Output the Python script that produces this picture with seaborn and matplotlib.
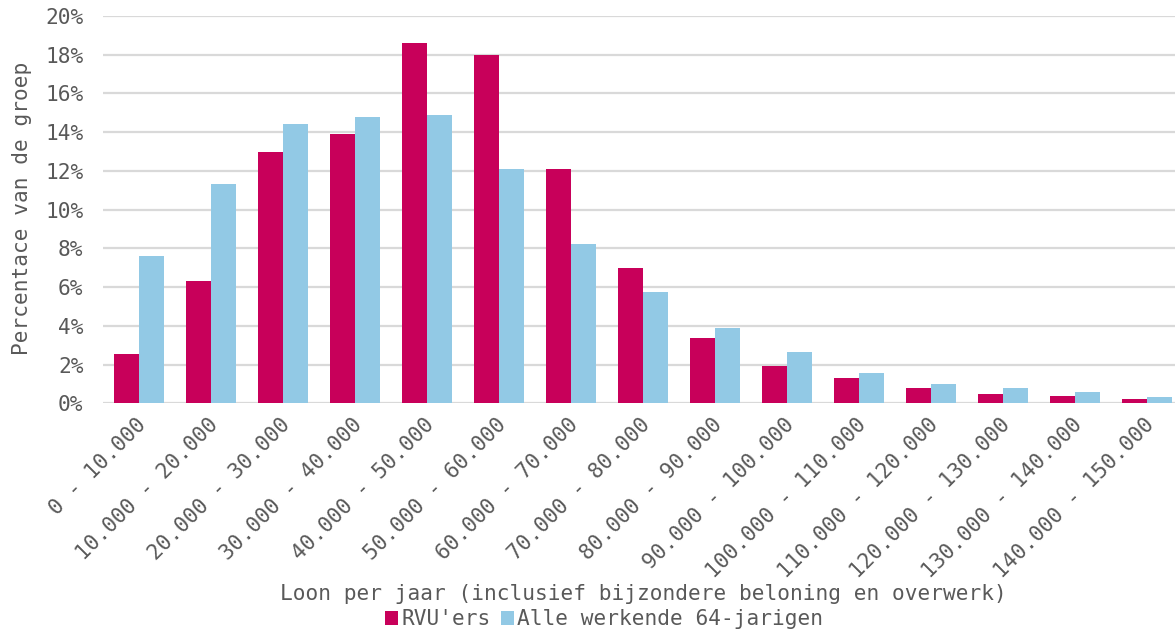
import pandas as pd
import matplotlib
matplotlib.use("Agg")
import matplotlib.pyplot as plt
import matplotlib.transforms as mtransforms
import seaborn as sns
from matplotlib.ticker import FuncFormatter, MultipleLocator

# ------------------------------------------------------------
# Data (in %)
# ------------------------------------------------------------
klassen = [
    "0 - 10.000", "10.000 - 20.000", "20.000 - 30.000", "30.000 - 40.000",
    "40.000 - 50.000", "50.000 - 60.000", "60.000 - 70.000", "70.000 - 80.000",
    "80.000 - 90.000", "90.000 - 100.000", "100.000 - 110.000",
    "110.000 - 120.000", "120.000 - 130.000", "130.000 - 140.000",
    "140.000 - 150.000",
]
rvu_ers = [2.55, 6.3, 12.97, 13.9, 18.6, 17.98, 12.1, 6.99, 3.37, 1.93,
           1.3, 0.78, 0.47, 0.37, 0.2]
alle_64 = [7.6, 11.35, 14.4, 14.8, 14.9, 12.1, 8.22, 5.74, 3.88, 2.65,
           1.56, 0.98, 0.78, 0.57, 0.31]
series = ["RVU'ers", "Alle werkende 64-jarigen"]
kleuren = ["#C8005A", "#92C9E5"]

df = pd.DataFrame({
    "klasse": klassen * 2,
    "groep": [series[0]] * len(klassen) + [series[1]] * len(klassen),
    "pct": rvu_ers + alle_64,
})

# ------------------------------------------------------------
# Plot
# ------------------------------------------------------------
sns.set_style("white")
plt.rcParams["font.family"] = ["DejaVu Sans Mono", "DejaVu Sans"]
tekst = "#595959"
fs = 15.2

fig = plt.figure(figsize=(11.75, 6.3), dpi=100)
ax = fig.add_axes([103 / 1175, 0.3598, 1080 / 1175, 0.6148])

sns.barplot(data=df, x="klasse", y="pct", hue="groep", palette=kleuren,
            width=0.7, saturation=1, linewidth=0, ax=ax, legend=True)

ax.set_ylim(0, 20)
ax.set_xlim(-0.5, len(klassen) - 0.5)
ax.yaxis.set_major_locator(MultipleLocator(2))
ax.yaxis.set_major_formatter(FuncFormatter(lambda v, p: f"{v:.0f}%"))
ax.grid(axis="y", color="#d9d9d9", linewidth=1.6)
ax.set_axisbelow(True)
for s in ax.spines.values():
    s.set_visible(False)
ax.tick_params(length=0, labelsize=fs, colors=tekst)
ax.tick_params(axis="y", pad=14)
ax.tick_params(axis="x", pad=8)
plt.setp(ax.get_xticklabels(), rotation=45, ha="right", rotation_mode="anchor")
verschuif = mtransforms.ScaledTranslation(-3 / 100, 0, fig.dpi_scale_trans)
for lbl in ax.get_xticklabels():
    lbl.set_transform(lbl.get_transform() + verschuif)

ax.set_xlabel("Loon per jaar (inclusief bijzondere beloning en overwerk)",
              fontsize=fs, color=tekst)
ax.xaxis.set_label_coords(0.5, -0.4924)
ax.xaxis.label.set_va("center")
ax.set_ylabel("Percentace van de groep", fontsize=fs, color=tekst)
ax.yaxis.set_label_coords(-0.075, 0.504)
ax.yaxis.label.set_va("center")

handles, labels = ax.get_legend_handles_labels()
ax.get_legend().remove()
fig.legend(handles, labels, loc="center", bbox_to_anchor=(0.514, 0.017),
           ncol=2, frameon=False, fontsize=fs, labelcolor=tekst,
           handlelength=0.6, handleheight=0.6, handletextpad=0.15,
           columnspacing=0.5, borderpad=0)

fig.savefig("out.png", dpi=100)
